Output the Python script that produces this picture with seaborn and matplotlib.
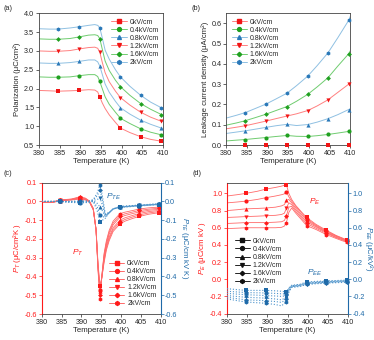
import numpy as np
import pandas as pd
import matplotlib
matplotlib.use("Agg")
import matplotlib.pyplot as plt
import seaborn as sns
from matplotlib.lines import Line2D

# ---------------- data ----------------
FIELDS = ["0kV/cm", "0.4kV/cm", "0.8kV/cm", "1.2kV/cm", "1.6kV/cm", "2kV/cm"]
T_MARK = [384.6, 389.6, 394.7, 399.7, 404.6, 409.6]

# (a) polarization
Ta = [380, 382.5, 384.6, 387.5, 389.6, 392, 393.5, 394.2, 394.7, 395.3, 396, 397, 398.5, 399.7, 402, 404.6, 407, 409.6, 410]
Pa_0 = [1.95, 1.94, 1.93, 1.94, 1.95, 1.97, 1.96, 1.91, 1.78, 1.62, 1.47, 1.30, 1.10, 0.95, 0.83, 0.72, 0.65, 0.60, 0.59]
Pa_04 = [2.31, 2.30, 2.30, 2.31, 2.34, 2.37, 2.37, 2.32, 2.19, 2.00, 1.78, 1.58, 1.37, 1.21, 1.07, 0.93, 0.84, 0.77, 0.76]
Pa_08 = [2.68, 2.67, 2.67, 2.69, 2.72, 2.76, 2.76, 2.71, 2.60, 2.38, 2.12, 1.90, 1.66, 1.49, 1.32, 1.16, 1.05, 0.95, 0.94]
Pa_12 = [3.00, 2.99, 2.99, 3.01, 3.05, 3.09, 3.10, 3.07, 2.97, 2.70, 2.42, 2.18, 1.93, 1.76, 1.56, 1.37, 1.24, 1.13, 1.12]
Pa_16 = [3.32, 3.31, 3.31, 3.33, 3.37, 3.42, 3.43, 3.41, 3.33, 3.05, 2.73, 2.48, 2.22, 2.05, 1.82, 1.60, 1.45, 1.31, 1.30]
Pa_20 = [3.59, 3.58, 3.58, 3.61, 3.64, 3.68, 3.70, 3.68, 3.62, 3.35, 3.02, 2.78, 2.50, 2.31, 2.06, 1.82, 1.64, 1.49, 1.48]

# (b) leakage current density
Tb = [380, 382.5, 384.6, 387, 389.6, 392, 394.7, 397, 399.7, 402, 404.6, 407, 409.6, 410]
Jb_0 = [0.002, 0.002, 0.002, 0.002, 0.002, 0.002, 0.002, 0.002, 0.002, 0.002, 0.002, 0.002, 0.002, 0.002]
Jb_04 = [0.020, 0.024, 0.027, 0.032, 0.037, 0.042, 0.047, 0.043, 0.042, 0.046, 0.052, 0.059, 0.067, 0.068]
Jb_08 = [0.057, 0.064, 0.070, 0.078, 0.087, 0.095, 0.102, 0.096, 0.101, 0.113, 0.130, 0.150, 0.175, 0.178]
Jb_12 = [0.080, 0.088, 0.095, 0.106, 0.118, 0.130, 0.143, 0.154, 0.170, 0.193, 0.223, 0.260, 0.300, 0.310]
Jb_16 = [0.098, 0.109, 0.120, 0.135, 0.152, 0.170, 0.190, 0.216, 0.250, 0.287, 0.332, 0.390, 0.450, 0.465]
Jb_20 = [0.133, 0.147, 0.160, 0.180, 0.202, 0.227, 0.256, 0.293, 0.340, 0.392, 0.455, 0.530, 0.615, 0.635]

# (c) p_T (red, left) and p_TE (blue, right)
Tc_r = [380, 382.5, 384.6, 387.5, 389.6, 391, 392, 393, 393.7, 394.2, 394.7, 395.2, 395.7, 396.3, 397, 398, 399.7, 401, 403, 404.6, 407, 409.6, 410]
pT_0 = [-0.005, -0.006, 0.003, 0.008, 0.012, 0.008, -0.002, -0.045, -0.15, -0.33, -0.45, -0.40, -0.33, -0.26, -0.21, -0.16, -0.12, -0.105, -0.09, -0.08, -0.068, -0.060, -0.059]
pT_04 = [-0.005, -0.006, 0.004, 0.009, 0.015, 0.010, -0.001, -0.043, -0.15, -0.34, -0.47, -0.40, -0.32, -0.25, -0.20, -0.15, -0.11, -0.096, -0.082, -0.072, -0.061, -0.054, -0.053]
pT_08 = [-0.005, -0.005, 0.005, 0.010, 0.018, 0.012, 0.000, -0.041, -0.15, -0.35, -0.48, -0.40, -0.31, -0.24, -0.19, -0.14, -0.10, -0.087, -0.074, -0.064, -0.054, -0.048, -0.047]
pT_12 = [-0.004, -0.005, 0.006, 0.011, 0.020, 0.014, 0.001, -0.040, -0.15, -0.35, -0.49, -0.39, -0.30, -0.23, -0.175, -0.125, -0.085, -0.075, -0.064, -0.056, -0.047, -0.042, -0.041]
pT_16 = [-0.004, -0.004, 0.007, 0.012, 0.022, 0.016, 0.002, -0.038, -0.15, -0.36, -0.50, -0.39, -0.29, -0.22, -0.165, -0.115, -0.075, -0.066, -0.056, -0.048, -0.041, -0.036, -0.035]
pT_20 = [-0.004, -0.004, 0.008, 0.013, 0.025, 0.018, 0.003, -0.036, -0.15, -0.37, -0.52, -0.39, -0.28, -0.21, -0.155, -0.105, -0.065, -0.057, -0.048, -0.040, -0.034, -0.030, -0.029]

Tc_b = [380, 384.6, 389.6, 392, 393, 394, 394.7, 395.3, 396, 397, 398, 399.7, 404.6, 409.6, 410]
pTE_0 = [0.0, 0.0, -0.008, -0.005, 0.0, -0.05, -0.11, -0.10, -0.09, -0.06, -0.04, -0.032, -0.024, -0.017, -0.017]
pTE_04 = [0.0, 0.0, -0.006, -0.004, 0.002, -0.03, -0.07, -0.08, -0.085, -0.06, -0.04, -0.031, -0.023, -0.016, -0.016]
pTE_08 = [0.0, 0.0, -0.004, -0.003, 0.004, -0.01, -0.03, -0.05, -0.08, -0.06, -0.04, -0.030, -0.022, -0.015, -0.015]
pTE_12 = [0.0, 0.0, -0.002, -0.001, 0.006, 0.01, 0.02, -0.02, -0.075, -0.06, -0.04, -0.029, -0.021, -0.014, -0.014]
pTE_16 = [0.0, 0.0, 0.000, 0.001, 0.008, 0.03, 0.06, 0.01, -0.07, -0.06, -0.04, -0.028, -0.020, -0.013, -0.013]
pTE_20 = [0.0, 0.0, 0.002, 0.003, 0.010, 0.045, 0.09, 0.03, -0.065, -0.06, -0.04, -0.027, -0.019, -0.012, -0.012]

# (d) p_E (red, left) and p_EE (blue, right)
Td_r = [380, 382.5, 384.6, 387.5, 389.6, 392, 393.5, 394.2, 394.7, 395.3, 396, 397, 398.5, 399.7, 402, 404.6, 407, 409.6, 410]
pE_0 = [0.97, 0.985, 1.00, 1.025, 1.05, 1.07, 1.085, 1.095, 1.10, 1.00, 0.93, 0.86, 0.78, 0.72, 0.64, 0.57, 0.51, 0.46, 0.455]
pE_04 = [0.89, 0.90, 0.91, 0.93, 0.95, 0.97, 0.985, 0.995, 1.02, 0.96, 0.91, 0.85, 0.77, 0.705, 0.63, 0.56, 0.505, 0.455, 0.45]
pE_08 = [0.80, 0.81, 0.82, 0.825, 0.83, 0.84, 0.855, 0.87, 0.92, 0.93, 0.89, 0.83, 0.75, 0.69, 0.62, 0.55, 0.50, 0.45, 0.445]
pE_12 = [0.72, 0.725, 0.73, 0.735, 0.74, 0.745, 0.755, 0.77, 0.83, 0.89, 0.87, 0.81, 0.73, 0.67, 0.61, 0.545, 0.49, 0.445, 0.44]
pE_16 = [0.65, 0.655, 0.66, 0.66, 0.66, 0.665, 0.67, 0.685, 0.74, 0.84, 0.85, 0.79, 0.71, 0.65, 0.595, 0.535, 0.485, 0.44, 0.435]
pE_20 = [0.59, 0.595, 0.60, 0.60, 0.60, 0.60, 0.605, 0.62, 0.66, 0.78, 0.83, 0.77, 0.69, 0.625, 0.58, 0.52, 0.475, 0.43, 0.425]

Td_b = [380, 384.6, 389.6, 392, 393.5, 394.7, 395.3, 396, 397, 398, 399.7, 404.6, 409.6, 410]
pEE_0 = [-0.11, -0.13, -0.13, -0.135, -0.14, -0.15, -0.10, -0.07, -0.065, -0.06, -0.03, -0.02, -0.01, -0.01]
pEE_04 = [-0.14, -0.155, -0.16, -0.165, -0.17, -0.17, -0.11, -0.075, -0.07, -0.065, -0.038, -0.025, -0.015, -0.015]
pEE_08 = [-0.165, -0.18, -0.19, -0.195, -0.20, -0.19, -0.12, -0.08, -0.075, -0.07, -0.045, -0.03, -0.02, -0.02]
pEE_12 = [-0.19, -0.21, -0.22, -0.23, -0.24, -0.21, -0.13, -0.085, -0.08, -0.075, -0.05, -0.035, -0.025, -0.025]
pEE_16 = [-0.21, -0.24, -0.25, -0.26, -0.27, -0.23, -0.14, -0.09, -0.085, -0.08, -0.055, -0.04, -0.03, -0.03]
pEE_20 = [-0.23, -0.265, -0.28, -0.295, -0.31, -0.26, -0.15, -0.095, -0.09, -0.085, -0.06, -0.045, -0.035, -0.035]

X_TICKS = [380, 385, 390, 395, 400, 405, 410]

# ---------------- style ----------------
sns.set_theme(style="ticks")
plt.rcParams["font.family"] = ["Liberation Sans", "DejaVu Sans"]
plt.rcParams["mathtext.fontset"] = "custom"
plt.rcParams["mathtext.it"] = "Liberation Sans:italic"
plt.rcParams["mathtext.rm"] = "Liberation Sans"
plt.rcParams["axes.linewidth"] = 0.6
plt.rcParams["axes.edgecolor"] = "#444444"

RED_M, RED_L = "#f01515", "#ff8080"
GRN_M, GRN_L = "#20a020", "#6fcc6f"
BLU_M, BLU_L = "#2a78b8", "#8fc0e2"
RED_C, RED_CL = "#ff1a1a", "#ff6a6a"
BLU_C, BLU_CL = "#1f6aa8", "#4f95cc"
MARKERS = ["s", "o", "^", "v", "D", "h"]
MSIZE = {"s": 8, "o": 9, "^": 9, "v": 9, "D": 6, "h": 9}
FS_TICK, FS_LAB, FS_LEG = 5.2, 5.6, 5.0


def long_df(T, series):
    rows = []
    for name, vals in zip(FIELDS, series):
        for t, v in zip(T, vals):
            rows.append((t, v, name))
    return pd.DataFrame(rows, columns=["T", "v", "field"])


def draw(ax, T, series, line_cols, mark_cols, ls="-", lw=0.7, zl=2):
    df = long_df(T, series)
    sns.lineplot(data=df, x="T", y="v", hue="field", hue_order=FIELDS,
                 palette=dict(zip(FIELDS, line_cols)), estimator=None, sort=False,
                 linewidth=lw, linestyle=ls, legend=False, ax=ax, zorder=zl)
    dm = df[np.isclose(df["T"].values[:, None], np.array(T_MARK)[None, :]).any(axis=1)]
    for name, m, c in zip(FIELDS, MARKERS, mark_cols):
        sub = dm[dm["field"] == name]
        sns.scatterplot(data=sub, x="T", y="v", color=c, marker=m, s=MSIZE[m],
                        linewidth=0, legend=False, ax=ax, zorder=zl + 1, clip_on=False)


def style_ax(ax, ylim, yticks):
    ax.set_xlim(380, 410)
    ax.set_xticks(X_TICKS)
    ax.set_ylim(*ylim)
    ax.set_yticks(yticks)
    ax.tick_params(labelsize=FS_TICK, length=2, width=0.5, pad=1.5)
    ax.set_xlabel("Temperature (K)", fontsize=FS_LAB, labelpad=1)


def legend(ax, line_cols, mark_cols, **kw):
    handles = [Line2D([], [], color=lc, lw=0.7, marker=m, markerfacecolor=mc,
                      markeredgecolor=mc, markersize=2.8 if m != "D" else 2.2)
               for lc, mc, m in zip(line_cols, mark_cols, MARKERS)]
    ax.legend(handles, FIELDS, frameon=False, fontsize=FS_LEG, handlelength=2.2,
              handletextpad=0.4, labelspacing=0.15, borderaxespad=0.2, **kw)


fig = plt.figure(figsize=(3.74, 3.40), dpi=100)
W, H = 374.0, 340.0


def add_ax(x0, x1, y0, y1):
    return fig.add_axes([x0 / W, 1 - y1 / H, (x1 - x0) / W, (y1 - y0) / H])


LC6 = [RED_L, GRN_L, BLU_L, RED_L, GRN_L, BLU_L]
MC6 = [RED_M, GRN_M, BLU_M, RED_M, GRN_M, BLU_M]

# (a)
axa = add_ax(39, 163, 13.3, 145)
draw(axa, Ta, [Pa_0, Pa_04, Pa_08, Pa_12, Pa_16, Pa_20], LC6, MC6)
style_ax(axa, (0.5, 4.0), np.arange(0.5, 4.01, 0.5))
axa.set_yticklabels([f"{v:.1f}" for v in np.arange(0.5, 4.01, 0.5)])
axa.set_ylabel("Polarization (μC/cm²)", fontsize=FS_LAB, labelpad=2)
legend(axa, LC6, MC6, loc="upper right", bbox_to_anchor=(1.0, 0.99))

# (b)
axb = add_ax(226.3, 350.3, 13.3, 145)
draw(axb, Tb, [Jb_0, Jb_04, Jb_08, Jb_12, Jb_16, Jb_20], LC6, MC6)
style_ax(axb, (0.0, 0.65), np.arange(0, 0.61, 0.1))
axb.set_yticklabels([f"{v:.1f}" for v in np.arange(0, 0.61, 0.1)])
axb.set_ylabel("Leakage current density (μA/cm²)", fontsize=FS_LAB, labelpad=2)
legend(axb, LC6, MC6, loc="upper left", bbox_to_anchor=(0.01, 0.99))


def twin_style(ax, ax2, ylim, yticks, fmt):
    style_ax(ax, ylim, yticks)
    ax.set_yticklabels([fmt(v) for v in yticks])
    ax2.set_ylim(*ylim)
    ax2.set_yticks(yticks)
    ax2.set_yticklabels([fmt(v) for v in yticks])
    ax2.tick_params(labelsize=FS_TICK, length=2, width=0.5, pad=1.2)
    ax.tick_params(axis="y", colors=RED_C)
    ax2.tick_params(axis="y", colors=BLU_C)
    ax.spines["left"].set_color(RED_C)
    ax.spines["left"].set_linewidth(0.8)
    ax2.spines["left"].set_visible(False)
    ax.spines["right"].set_visible(False)
    ax2.spines["right"].set_color(BLU_C)
    ax2.spines["right"].set_linewidth(0.8)
    ax2.spines["top"].set_visible(False)
    ax2.spines["bottom"].set_visible(False)


fmt1 = lambda v: f"{v:.1f}" if abs(v) > 1e-9 else "0.0"

# (c)
axc = add_ax(41.7, 160.7, 182.7, 314)
axc2 = axc.twinx()
draw(axc, Tc_r, [pT_0, pT_04, pT_08, pT_12, pT_16, pT_20], [RED_CL] * 6, [RED_C] * 6, lw=0.6)
draw(axc2, Tc_b, [pTE_0, pTE_04, pTE_08, pTE_12, pTE_16, pTE_20], [BLU_CL] * 6, [BLU_C] * 6,
     ls=":", lw=0.8)
yt_c = np.round(np.arange(-0.6, 0.101, 0.1), 2)
twin_style(axc, axc2, (-0.6, 0.1), yt_c, fmt1)
axc.set_ylabel("$P_T$ (μC/cm²K )", fontsize=FS_LAB, color=RED_C, labelpad=1)
axc2.set_ylabel("$P_{TE}$ (μC/cm kV K)", fontsize=FS_LAB, color=BLU_C, rotation=270,
                va="center", ha="center")
axc2.yaxis.set_label_coords(1.2, 0.5)
axc.text(389.2, -0.275, "$P_T$", color=RED_C, fontsize=6, ha="center", va="center")
axc.text(398.2, 0.024, "$P_{TE}$", color=BLU_C, fontsize=6, ha="center", va="center")
legend(axc, [RED_CL] * 6, [RED_C] * 6, loc="lower right", bbox_to_anchor=(1.0, 0.02))

# (d)
axd = add_ax(227, 348.3, 182.7, 314)
axd2 = axd.twinx()
draw(axd, Td_r, [pE_0, pE_04, pE_08, pE_12, pE_16, pE_20], [RED_CL] * 6, [RED_C] * 6, lw=0.6)
draw(axd2, Td_b, [pEE_0, pEE_04, pEE_08, pEE_12, pEE_16, pEE_20], [BLU_CL] * 6, [BLU_C] * 6,
     ls=":", lw=0.8)
yt_d = np.round(np.arange(-0.4, 1.01, 0.2), 2)
twin_style(axd, axd2, (-0.405, 1.125), yt_d, fmt1)
axd.set_ylabel("$P_E$ (μC/cm kV )", fontsize=FS_LAB, color=RED_C, labelpad=1)
axd2.set_ylabel("$P_{EE}$ (μC/kV²)", fontsize=FS_LAB, color=BLU_C, rotation=270,
                va="center", ha="center")
axd2.yaxis.set_label_coords(1.168, 0.5)
axd.text(401.8, 0.9, "$P_E$", color=RED_C, fontsize=6, ha="center", va="center")
axd.text(401.8, 0.07, "$P_{EE}$", color=BLU_C, fontsize=6, ha="center", va="center")
legend(axd, ["#222222"] * 6, ["#111111"] * 6, loc="center left", bbox_to_anchor=(0.03, 0.40))

for lab, x, y in [("(a)", 4, 5), ("(b)", 191, 5), ("(c)", 4, 170), ("(d)", 192, 170)]:
    fig.text(x / W, 1 - y / H, lab, fontsize=5.2, va="top", ha="left")

fig.savefig("out.png", dpi=100)
